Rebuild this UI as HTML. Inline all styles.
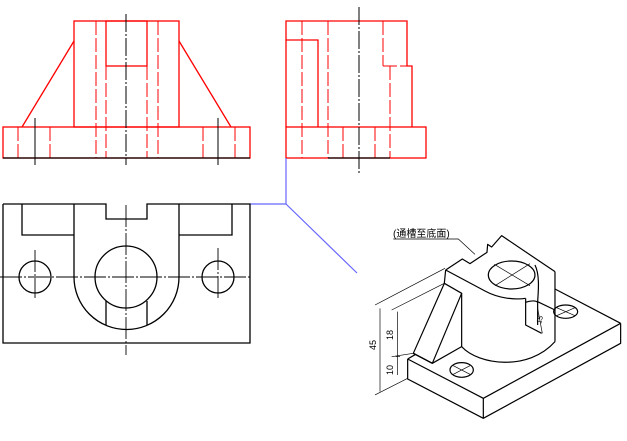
<!DOCTYPE html>
<html><head><meta charset="utf-8"><style>html,body{margin:0;padding:0;background:#fff;}svg{display:block}</style></head>
<body>
<svg width="627" height="441" viewBox="0 0 627 441" xmlns="http://www.w3.org/2000/svg" fill="none">
<!-- Front view -->
<g stroke="#f00" stroke-width="1.3">
<rect x="3" y="127" width="247" height="31"/>
<rect x="74" y="21" width="105" height="106"/>
<rect x="106" y="21" width="41" height="45"/>
<line x1="74" y1="41" x2="22" y2="127"/>
<line x1="179" y1="41" x2="231" y2="127"/>
</g>
<g stroke="#f00" stroke-width="1" stroke-dasharray="14,3">
<line x1="96" y1="21" x2="96" y2="158"/><line x1="106" y1="66" x2="106" y2="158"/>
<line x1="147" y1="66" x2="147" y2="158"/><line x1="158" y1="21" x2="158" y2="158"/>
<line x1="18" y1="127" x2="18" y2="158"/><line x1="50" y1="127" x2="50" y2="158"/>
<line x1="203" y1="127" x2="203" y2="158"/><line x1="235" y1="127" x2="235" y2="158"/>
</g>
<g stroke="#000" stroke-width="1">
<line x1="3" y1="158" x2="250" y2="158" stroke-width="1.3"/>
<line x1="126" y1="14" x2="126" y2="165" stroke-dasharray="18,2,2,2"/>
<line x1="35" y1="118" x2="35" y2="165"/><line x1="218" y1="118" x2="218" y2="165"/>
</g>
<!-- Side view -->
<g stroke="#f00" stroke-width="1.3">
<polyline points="286,127 286,21 407,21 407,66 412,66 412,127"/>
<rect x="286" y="127" width="140" height="31"/>
<polyline points="286,40 318,40 318,127"/>
</g>
<g stroke="#f00" stroke-width="1" stroke-dasharray="14,3">
<line x1="302" y1="21" x2="302" y2="158"/><line x1="328" y1="21" x2="328" y2="158"/>
<line x1="383" y1="21" x2="383" y2="66"/><line x1="383" y1="66" x2="407" y2="66"/>
<line x1="390" y1="66" x2="390" y2="158"/>
<line x1="343" y1="127" x2="343" y2="158"/><line x1="375" y1="127" x2="375" y2="158"/>
</g>
<line x1="328" y1="158" x2="390" y2="158" stroke="#000" stroke-width="1.3"/>
<line x1="359" y1="7" x2="359" y2="173" stroke="#000" stroke-dasharray="18,2,2,2"/>
<g stroke="#66f" stroke-width="1.2">
<polyline points="286,158 286,204 250,204"/><line x1="286" y1="204" x2="357" y2="273"/>
</g>
<!-- Top view -->
<g stroke="#000" stroke-width="1.3">
<polyline points="3,204 106,204 106,219 147,219 147,204 250,204 250,343 3,343 3,204"/>
<polyline points="22,204 22,235 74,235"/><polyline points="232,204 232,235 179,235"/>
<path d="M74,204 V277 A52.5,52.5 0 0 0 179,277 V204"/>
<circle cx="126" cy="277" r="31"/>
<line x1="106" y1="301" x2="106" y2="325"/><line x1="147" y1="301" x2="147" y2="325"/>
<circle cx="35" cy="277" r="16"/><circle cx="218" cy="277" r="16"/>
</g>
<g stroke="#000" stroke-width="0.9" stroke-dasharray="22,2,2,2">
<line x1="0" y1="277" x2="252" y2="277"/><line x1="126" y1="205" x2="126" y2="355"/>
<line x1="35" y1="250" x2="35" y2="298"/><line x1="218" y1="248" x2="218" y2="300"/>
</g>
<!-- Isometric -->
<g transform="translate(355,215) scale(0.3333)" stroke="#000" stroke-width="3.6" stroke-linejoin="round">
<polyline points="158,432 385,550 797,325"/>
<polyline points="158,432 158,492 385,610 797,385 797,325"/>
<line x1="385" y1="550" x2="385" y2="610"/>
<line x1="797" y1="325" x2="600" y2="222"/>
<line x1="158" y1="432" x2="182" y2="418"/>
<polygon points="175,415 268,205 320,235 232,445"/>
<line x1="175" y1="415" x2="232" y2="445"/>
<line x1="268" y1="205" x2="272" y2="165"/>
<line x1="320" y1="235" x2="320" y2="395"/>
<line x1="232" y1="445" x2="320" y2="395"/>
<path d="M320,395 C370,450 520,470 600,380"/>
<line x1="600" y1="170" x2="600" y2="380"/>
<polyline points="272,165 322,132 345,146 396,112 398,88 410,96 440,62 600,170"/>
<path d="M272,165 L390,228 C430,250 480,255 512,250"/>
<ellipse cx="470" cy="180" rx="70" ry="42"/>
<line x1="418" y1="148" x2="525" y2="212" stroke-width="2"/><line x1="420" y1="212" x2="525" y2="146" stroke-width="2"/>
<path d="M512,250 L512,330 L560,355"/>
<path d="M540,150 C555,180 550,230 548,260 L548,330"/>
<path d="M512,262 C530,255 545,258 548,262"/>
<path d="M548,260 L600,285"/>
<ellipse cx="320" cy="465" rx="35" ry="22"/>
<line x1="295" y1="452" x2="345" y2="478" stroke-width="2"/><line x1="295" y1="478" x2="345" y2="452" stroke-width="2"/>
<ellipse cx="632" cy="290" rx="36" ry="20"/>
<line x1="605" y1="278" x2="660" y2="302" stroke-width="2"/><line x1="605" y1="302" x2="660" y2="278" stroke-width="2"/>
</g>
<g transform="translate(355,215) scale(0.3333)" stroke="#000" stroke-width="2">
<line x1="60" y1="270" x2="270" y2="160"/>
<line x1="110" y1="285" x2="268" y2="205"/>
<line x1="110" y1="425" x2="175" y2="415"/>
<line x1="60" y1="540" x2="158" y2="490"/>
<line x1="75" y1="280" x2="75" y2="530"/>
<line x1="128" y1="290" x2="128" y2="480"/>
<line x1="122" y1="425" x2="135" y2="425"/>
<line x1="548" y1="280" x2="562" y2="355"/>
<polyline points="115,72 310,72 360,118"/>
</g>
<g font-family="Liberation Sans, sans-serif" font-size="9" fill="#000">
<text transform="translate(376,350) rotate(-90)">45</text>
<text transform="translate(393,340) rotate(-90)">18</text>
<text transform="translate(393,375) rotate(-90)">10</text>
<text transform="translate(541,324) rotate(-75)" font-size="7">15</text>
</g>
<text x="393" y="237" font-family="Liberation Sans, 'Noto Sans CJK SC', sans-serif" font-size="10" fill="#000">(通槽至底面)</text>
</svg>
</body></html>
